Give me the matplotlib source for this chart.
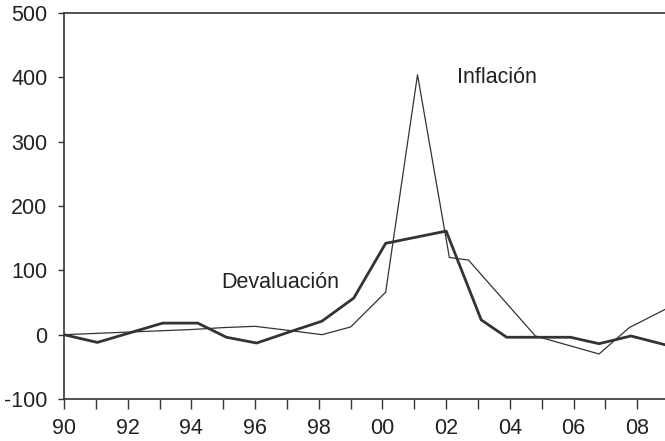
import matplotlib
matplotlib.use('Agg')
import matplotlib.pyplot as plt

# Devaluacion (thick line)
dev_x = [1990, 1991.05, 1993.1, 1994.2, 1995.1, 1996.05, 1997, 1998.1, 1999.1,
         2000.1, 2002, 2003.1, 2003.9, 2005.9, 2006.8, 2007.8, 2008.9]
dev_y = [0, -12, 18, 18, -4, -13, 3, 21, 57, 142, 161, 23, -4, -4, -14, -2, -16]

# Inflacion (thin line)
inf_x = [1990, 1991, 1992, 1993, 1994, 1995, 1996, 1997, 1998.1, 1999,
         2000.1, 2001.1, 2002.1, 2002.7, 2004.8, 2006.8, 2007.75, 2008.9]
inf_y = [0, 2, 4, 6, 8, 11, 13, 7, 0, 12, 66, 404, 120, 116, -2, -30, 11, 40]

year_ticks = list(range(1990, 2010))
label_years = list(range(1990, 2010, 2))
y_ticks = [-100, 0, 100, 200, 300, 400, 500]

plt.rcParams['font.family'] = ['Liberation Sans', 'DejaVu Sans']
plt.rcParams['axes.unicode_minus'] = False

fig = plt.figure(figsize=(6.65, 4.41), dpi=100)
ax = fig.add_axes([0.0962, 0.0952, 0.91, 0.8753])

col = '#333333'
ax.plot(inf_x, inf_y, color=col, lw=0.9)
ax.plot(dev_x, dev_y, color=col, lw=2.0)

ax.set_xlim(1990, 2008.72)
ax.set_ylim(-100, 500)

ax.set_xticks(year_ticks)
ax.set_xticklabels([('%02d' % (y % 100)) if y in label_years else '' for y in year_ticks])
ax.set_yticks(y_ticks)

ax.tick_params(axis='x', direction='out', length=7, width=1, color=col,
               labelsize=15.5, pad=7, labelcolor='#222222')
ax.tick_params(axis='y', direction='out', length=4, width=1, color=col,
               labelsize=15.5, pad=8, labelcolor='#222222')

for s in ['left', 'bottom', 'top']:
    ax.spines[s].set_color(col)
    ax.spines[s].set_linewidth(1.2)
ax.spines['right'].set_visible(False)

ax.text(2003.6, 400, 'Inflación', ha='center', va='center', fontsize=15.5, color='#222222')
ax.text(1996.8, 81, 'Devaluación', ha='center', va='center', fontsize=15.5, color='#222222')

fig.savefig('out.png', dpi=100)
